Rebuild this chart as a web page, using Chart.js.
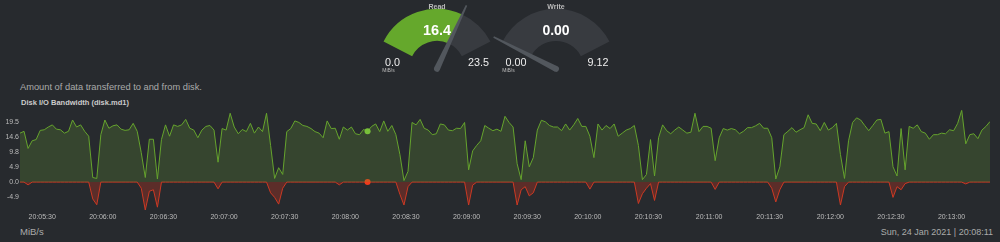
<!DOCTYPE html>
<html>
<head>
<meta charset="utf-8">
<script src="https://cdn.jsdelivr.net/npm/chart.js@4/dist/chart.umd.min.js"></script>
<style>
  body { margin: 0; background: #272a2e; width: 1000px; height: 242px; overflow: hidden; position: relative;
         font-family: "Liberation Sans", Arial, sans-serif; }
  canvas { position: absolute; }
  .txt { position: absolute; line-height: 1; white-space: nowrap; }
  .c { transform: translate(-50%, -50%); }
</style>
</head>
<body>
<canvas id="gauge-read" width="140" height="80" style="left:367px; top:0px;"></canvas>
<canvas id="gauge-write" width="140" height="80" style="left:486px; top:0px;"></canvas>

<div class="txt c" style="left:437px; top:6px; font-size:7px; font-weight:bold; color:#bbb;">Read</div>
<div class="txt c" style="left:437px; top:30px; font-size:14.5px; font-weight:bold; color:#fff;">16.4</div>
<div class="txt c" style="left:392.5px; top:62px; font-size:10.8px; color:#eee;">0.0</div>
<div class="txt c" style="left:388.5px; top:70px; font-size:5px; color:#bbb;">MiB/s</div>
<div class="txt c" style="left:478.5px; top:62px; font-size:10.8px; color:#eee;">23.5</div>

<div class="txt c" style="left:556px; top:6px; font-size:7px; font-weight:bold; color:#bbb;">Write</div>
<div class="txt c" style="left:556px; top:30px; font-size:14px; font-weight:bold; color:#fff;">0.00</div>
<div class="txt c" style="left:516px; top:62px; font-size:10.8px; color:#eee;">0.00</div>
<div class="txt c" style="left:508.5px; top:70px; font-size:5px; color:#bbb;">MiB/s</div>
<div class="txt c" style="left:598px; top:62px; font-size:10.8px; color:#eee;">9.12</div>

<div class="txt" style="left:20px; top:83px; font-size:9.3px; color:#aaa;">Amount of data transferred to and from disk.</div>
<div class="txt" style="left:21px; top:99px; font-size:7.5px; font-weight:bold; color:#ccc;">Disk I/O Bandwidth (disk.md1)</div>

<canvas id="io-chart" width="1000" height="120" style="left:0px; top:105px;"></canvas>

<div class="txt" style="left:20px; top:227px; font-size:9.5px; color:#aaa;">MiB/s</div>
<div class="txt" style="right:7px; top:227.5px; font-size:9px; color:#aaa;">Sun, 24 Jan 2021 | 20:08:11</div>

<script>
// gauges
const gaugeValues = [16.4, 0.00];
const gaugeMins = [0.0, 0.00];
const gaugeMaxs = [23.5, 9.12];

// chart: one sample every 2 seconds starting at 20:05:19
const startTime = '20:05:19';
const stepSeconds = 2;
const hoverTime = '20:08:11';
const xTickLabels = ['20:05:30', '20:06:00', '20:06:30', '20:07:00', '20:07:30', '20:08:00', '20:08:30', '20:09:00',
  '20:09:30', '20:10:00', '20:10:30', '20:11:00', '20:11:30', '20:12:00', '20:12:30', '20:13:00'];
const yTickValues = [-4.88, 0, 4.88, 9.76, 14.64, 19.52];
const yMin = -9.12;
const yMax = 23.5;

const readValues = [
  16.0, 16.6, 11.0, 13.5, 13.9, 16.9, 17.1, 18.0, 18.7, 17.3,
  17.1, 16.0, 16.6, 20.3, 18.0, 18.7, 16.6, 15.0, 1.5, 1.2,
  15.5, 20.3, 17.6, 18.4, 18.7, 17.3, 16.9, 17.1, 19.2, 16.6,
  9.6, 1.5, 14.0, 14.0, 1.0, 13.9, 18.7, 15.0, 18.7, 18.2,
  18.7, 20.5, 17.6, 17.0, 14.5, 17.0, 18.2, 18.5, 17.0, 6.5,
  17.5, 17.0, 22.5, 18.0, 15.8, 17.2, 16.5, 19.2, 16.0, 18.0,
  16.5, 22.5, 12.0, 1.2, 4.7, 2.5, 16.5, 17.5, 20.0, 19.5,
  18.5, 18.2, 17.5, 16.5, 16.0, 14.5, 20.0, 17.5, 17.6, 14.0,
  18.0, 17.0, 18.0, 15.8, 15.5, 17.2, 16.6, 18.2, 19.0, 16.5,
  20.0, 16.6, 18.5, 15.5, 9.0, 0.5, 3.5, 19.5, 18.7, 20.5,
  17.6, 17.0, 15.5, 15.8, 19.0, 18.7, 17.0, 16.8, 17.6, 17.5,
  19.5, 4.0, 10.2, 12.0, 13.5, 18.5, 17.6, 16.8, 17.3, 16.6,
  21.5, 19.5, 18.0, 6.0, 0.8, 13.5, 5.0, 8.0, 17.0, 20.2,
  19.7, 18.5, 18.0, 18.0, 16.8, 19.0, 17.0, 18.7, 20.8, 18.2,
  18.2, 15.0, 8.0, 19.0, 17.0, 18.5, 17.5, 19.0, 15.0, 16.0,
  17.0, 17.5, 18.5, 12.0, 0.8, 2.5, 13.9, 2.0, 14.5, 18.7,
  16.8, 15.8, 17.0, 18.0, 17.0, 16.0, 16.3, 22.5, 16.5, 18.2,
  18.2, 17.6, 7.0, 14.5, 17.5, 17.0, 17.5, 17.1, 15.8, 16.6,
  17.8, 17.8, 18.4, 19.2, 17.6, 17.6, 14.5, 1.0, 5.0, 15.5,
  16.6, 17.8, 16.3, 17.1, 17.8, 22.0, 19.2, 19.0, 16.8, 19.5,
  17.0, 17.8, 19.2, 9.0, 1.2, 13.5, 19.5, 21.0, 20.3, 18.5,
  16.8, 18.5, 20.3, 20.5, 16.0, 16.5, 5.0, 2.0, 17.5, 4.0,
  18.2, 17.6, 18.7, 16.5, 16.0, 14.0, 15.5, 15.5, 16.0, 15.8,
  17.1, 16.8, 19.2, 23.5, 12.5, 15.5, 15.8, 14.2, 17.0, 18.2,
  19.8
];

const writeValues = [
  0, 0, -0.9, 0, 0, 0, 0, 0, 0, 0,
  0, 0, 0, 0, 0, 0, 0, 0, -5.5, -7.4,
  0, 0, 0, 0, 0, 0, 0, 0, 0, 0,
  -2.0, -9.12, -3.0, -2.5, -8.2, 0, 0, 0, 0, 0,
  0, 0, 0, 0, 0, 0, 0, 0, 0, -2.2,
  0, 0, 0, 0, 0, 0, 0, 0, 0, 0,
  0, 0, -3.5, -5.0, -7.2, -2.0, 0, 0, 0, 0,
  0, 0, 0, 0, 0, 0, 0, 0, 0, -0.9,
  0, 0, 0, 0, 0, 0, 0, 0, 0, 0,
  0, 0, 0, 0, -4.0, -7.5, -1.5, 0, 0, 0,
  0, 0, 0, 0, 0, 0, 0, 0, 0, 0,
  0, -7.5, -1.0, 0, 0, 0, 0, 0, 0, 0,
  0, 0, 0, -7.5, -2.5, -1.5, -4.5, -3.5, 0, 0,
  0, 0, 0, 0, 0, 0, 0, 0, 0, 0,
  0, -2.3, 0, 0, 0, 0, 0, 0, 0, 0,
  0, 0, 0, -7.0, -3.8, -2.0, -0.5, -6.0, 0, 0,
  0, 0, 0, 0, 0, 0, 0, 0, 0, 0,
  0, 0, -2.4, 0, 0, 0, 0, 0, 0, 0,
  0, 0, 0, 0, 0, 0, -2.0, -6.5, -2.5, 0,
  0, 0, 0, 0, 0, 0, 0, 0, 0, 0,
  0, 0, 0, -7.5, -1.5, 0, 0, 0, 0, 0,
  0, 0, 0, 0, 0, 0, -5.0, -1.5, -2.5, -0.5,
  0, 0, 0, 0, 0, 0, 0, 0, 0, 0,
  0, 0, 0, 0, -0.6, 0, 0, 0, 0, 0,
  0
];

const green = '#66a42e';
const red = '#cc3a24';

function toSec(t) {
  var p = t.split(':').map(Number);
  return p[0] * 3600 + p[1] * 60 + p[2];
}
function fmtTime(s) {
  var h = Math.floor(s / 3600), m = Math.floor((s % 3600) / 60), sec = s % 60;
  return [h, m, sec].map(function (v) { return String(v).padStart(2, '0'); }).join(':');
}

const t0 = toSec(startTime);
const times = readValues.map(function (v, i) { return t0 + i * stepSeconds; });
const hoverIdx = times.indexOf(toSec(hoverTime));
const readPoints = readValues.map(function (v, i) { return { x: times[i], y: v }; });
const writePoints = writeValues.map(function (v, i) { return { x: times[i], y: v }; });

// needle drawn at the end of the value arc
const needlePlugin = {
  id: 'needle',
  afterDatasetsDraw(chart) {
    const arc = chart.getDatasetMeta(0).data[0];
    const ctx = chart.ctx;
    const a = arc.endAngle, len = 70;
    ctx.save();
    ctx.translate(arc.x, arc.y);
    ctx.rotate(a);
    ctx.fillStyle = '#52575d';
    ctx.beginPath();
    ctx.moveTo(0, -3);
    ctx.lineTo(len, -0.8);
    ctx.lineTo(len, 0.8);
    ctx.lineTo(0, 3);
    ctx.closePath();
    ctx.fill();
    ctx.beginPath();
    ctx.arc(0, 0, 3, 0, Math.PI * 2);
    ctx.fill();
    ctx.restore();
  }
};

function makeGauge(id, k) {
  new Chart(document.getElementById(id), {
    type: 'doughnut',
    data: {
      datasets: [{
        data: [gaugeValues[k] - gaugeMins[k], gaugeMaxs[k] - gaugeValues[k]],
        backgroundColor: ['#65a82c', '#383b40'],
        borderWidth: 0,
      }],
    },
    options: {
      responsive: false,
      animation: false,
      events: [],
      radius: 60,
      cutout: '46.5%',
      rotation: -63,
      circumference: 126,
      layout: { padding: { bottom: 15 } },
      plugins: { legend: { display: false }, tooltip: { enabled: false } },
    },
    plugins: [needlePlugin],
  });
}
makeGauge('gauge-read', 0);
makeGauge('gauge-write', 1);

new Chart(document.getElementById('io-chart'), {
  type: 'line',
  data: {
    datasets: [
      {
        label: 'reads',
        data: readPoints,
        borderColor: green,
        borderWidth: 1,
        backgroundColor: 'rgba(104, 160, 52, 0.24)',
        fill: 'origin',
        tension: 0,
        pointRadius: function (c) { return c.dataIndex === hoverIdx ? 3 : 0; },
        pointBackgroundColor: '#78c03a',
        pointBorderWidth: 0,
      },
      {
        label: 'writes',
        data: writePoints,
        borderColor: red,
        borderWidth: 1,
        backgroundColor: 'rgba(230, 55, 30, 0.28)',
        fill: 'origin',
        tension: 0,
        pointRadius: function (c) { return c.dataIndex === hoverIdx ? 3 : 0; },
        pointBackgroundColor: '#f03a1c',
        pointBorderWidth: 0,
      },
    ],
  },
  options: {
    responsive: false,
    animation: false,
    events: [],
    layout: { padding: { top: 4, right: 10, left: 0, bottom: 0 } },
    plugins: { legend: { display: false }, tooltip: { enabled: false } },
    scales: {
      x: {
        type: 'linear',
        min: times[0],
        max: times[times.length - 1],
        grid: { display: false, drawTicks: false },
        border: { display: false },
        afterBuildTicks: function (s) { s.ticks = xTickLabels.map(function (t) { return { value: toSec(t) }; }); },
        afterFit: function (s) { s.height = 15; },
        ticks: {
          autoSkip: false,
          maxRotation: 0,
          padding: 3,
          color: '#bbb',
          font: { family: 'Liberation Sans', size: 7 },
          callback: function (v) { return fmtTime(v); },
        },
      },
      y: {
        min: yMin,
        max: yMax,
        grid: { display: false, drawTicks: false },
        border: { display: false },
        afterBuildTicks: function (s) { s.ticks = yTickValues.map(function (v) { return { value: v }; }); },
        afterFit: function (s) { s.width = 20; },
        ticks: {
          padding: 1,
          color: '#bbb',
          font: { family: 'Liberation Sans', size: 7 },
          callback: function (v) { return v.toFixed(1); },
        },
      },
    },
  },
});
</script>
</body>
</html>
